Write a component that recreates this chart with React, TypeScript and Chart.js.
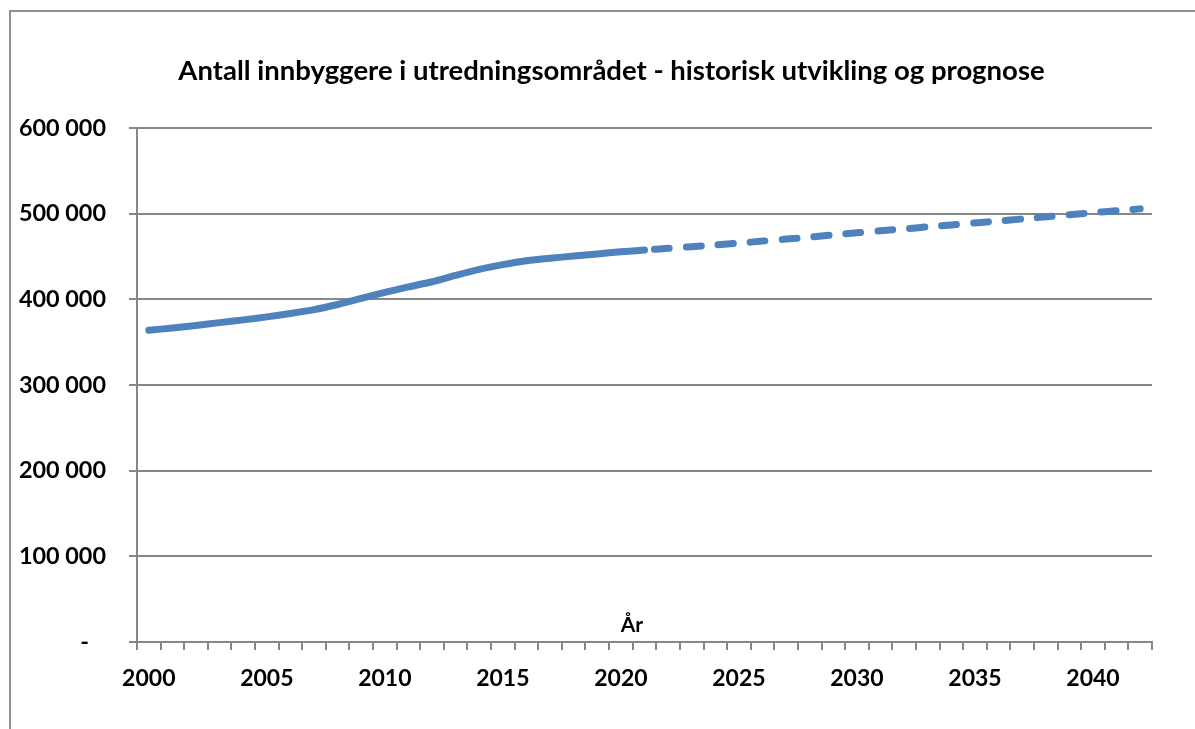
import React, { useEffect, useRef } from "react";
import { Chart, registerables } from "chart.js";

Chart.register(...registerables);

const TITLE = "Antall innbyggere i utredningsområdet - historisk utvikling og prognose";
const X_TITLE = "År";

const years: string[] = [
  "2000", "2001", "2002", "2003", "2004", "2005", "2006", "2007", "2008", "2009",
  "2010", "2011", "2012", "2013", "2014", "2015", "2016", "2017", "2018", "2019",
  "2020", "2021", "2022", "2023", "2024", "2025", "2026", "2027", "2028", "2029",
  "2030", "2031", "2032", "2033", "2034", "2035", "2036", "2037", "2038", "2039",
  "2040", "2041", "2042",
];

// Historical population 2000–2021
const historical: (number | null)[] = [
  364000, 366500, 369500, 372800, 376000, 379500, 383500, 388000, 394000, 401000,
  408000, 414500, 420500, 428000, 435000, 440500, 445000, 448000, 450500, 453000,
  455500, 457500, null, null, null, null, null, null, null, null,
  null, null, null, null, null, null, null, null, null, null,
  null, null, null,
];

// Forecast 2021–2042
const forecast: (number | null)[] = [
  null, null, null, null, null, null, null, null, null, null,
  null, null, null, null, null, null, null, null, null, null,
  null, 457500, 459500, 461400, 463500, 465600, 468000, 470300, 472600, 475200,
  477600, 480000, 482200, 484600, 486900, 489200, 491500, 493800, 496300, 498800,
  501200, 503400, 505600,
];

const yTicks: number[] = [0, 100000, 200000, 300000, 400000, 500000, 600000];

const GRID = "#878787";
const LINE = "#4F81BD";
const FONT = "Lato";

function fmt(v: number): string {
  if (v === 0) return "-   ";
  return Math.round(v).toString().replace(/\B(?=(\d{3})+(?!\d))/g, " ");
}

const textPlugin = {
  id: "excelTexts",
  afterDraw(chart: any) {
    const { ctx, chartArea, scales } = chart;
    ctx.save();
    ctx.fillStyle = "#000";
    ctx.font = `bold 27.5px ${FONT}`;
    ctx.textAlign = "center";
    ctx.textBaseline = "alphabetic";
    ctx.fillText(TITLE, 611.5, 80);
    ctx.font = `bold 21px ${FONT}`;
    const x = scales.x.getPixelForValue(20) + 11;
    ctx.fillText(X_TITLE, x, chartArea.bottom - 10);
    ctx.restore();
  },
};

export default function App() {
  const ref = useRef<HTMLCanvasElement | null>(null);

  useEffect(() => {
    if (!ref.current) return;
    const chart = new Chart(ref.current, {
      type: "line",
      data: {
        labels: years,
        datasets: [
          {
            label: "Historisk",
            data: historical,
            borderColor: LINE,
            backgroundColor: LINE,
            borderWidth: 7,
            borderCapStyle: "round",
            borderJoinStyle: "round",
            pointRadius: 0,
            tension: 0.2,
            spanGaps: false,
          },
          {
            label: "Prognose",
            data: forecast,
            borderColor: LINE,
            backgroundColor: LINE,
            borderWidth: 7,
            borderCapStyle: "round",
            borderJoinStyle: "round",
            borderDash: [15, 17],
            borderDashOffset: 22,
            pointRadius: 0,
            tension: 0.2,
            spanGaps: false,
          },
        ],
      },
      options: {
        responsive: false,
        animation: false,
        devicePixelRatio: 1,
        layout: { padding: { left: 0, right: 43, top: 128, bottom: 0 } },
        plugins: {
          legend: { display: false },
          title: { display: false },
          tooltip: { enabled: false },
        },
        scales: {
          x: {
            type: "category",
            offset: true,
            grid: {
              offset: true,
              drawOnChartArea: false,
              drawTicks: true,
              tickLength: 8,
              color: GRID,
              lineWidth: 2,
            },
            border: { display: true, color: GRID, width: 2 },
            ticks: {
              autoSkip: false,
              maxRotation: 0,
              minRotation: 0,
              padding: 15,
              color: "#000",
              font: { family: FONT, weight: "bold", size: 23 },
              callback: (_v: any, i: number) => (Number(years[i]) % 5 === 0 ? years[i] : ""),
            },
            afterFit: (s: any) => {
              s.height = 87;
            },
          },
          y: {
            min: 0,
            max: 600000,
            afterBuildTicks: (s: any) => {
              s.ticks = yTicks.map((v) => ({ value: v }));
            },
            grid: {
              drawOnChartArea: true,
              drawTicks: true,
              tickLength: 8,
              color: GRID,
              lineWidth: 2,
            },
            border: { display: true, color: GRID, width: 2 },
            ticks: {
              padding: 23,
              color: "#000",
              font: { family: FONT, weight: "bold", size: 23.4 },
              callback: (v: any) => fmt(Number(v)),
            },
            afterFit: (s: any) => {
              s.width = 137;
            },
          },
        },
      },
      plugins: [textPlugin],
    });
    return () => chart.destroy();
  }, []);

  return (
    <div style={{ position: "absolute", left: 0, top: 0, width: 1195, height: 729, overflow: "hidden" }}>
      <div
        style={{
          position: "absolute",
          left: 9,
          top: 10,
          width: 1186,
          height: 719,
          boxSizing: "border-box",
          borderLeft: "2px solid #8e8e8e",
          borderTop: "2px solid #8e8e8e",
          pointerEvents: "none",
        }}
      />
      <canvas ref={ref} width={1195} height={729} style={{ position: "absolute", left: 0, top: 0 }} />
    </div>
  );
}
